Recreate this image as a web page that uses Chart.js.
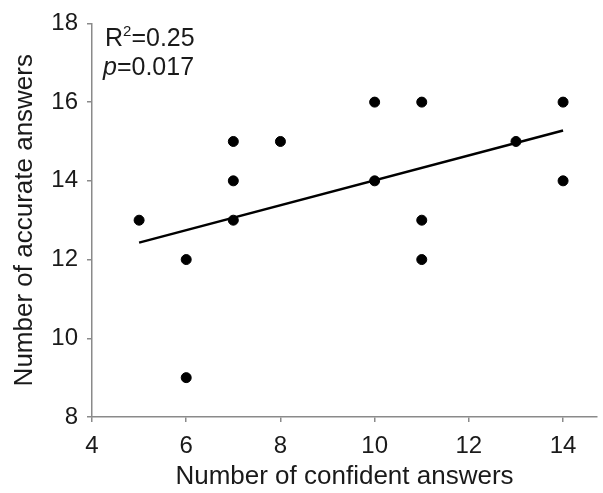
<!DOCTYPE html>
<html>
<head>
<meta charset="utf-8">
<script src="https://cdn.jsdelivr.net/npm/chart.js@4"></script>
<style>
  html, body { margin: 0; padding: 0; background: #fff; }
  #wrap { width: 603px; height: 493px; }
</style>
</head>
<body>
<div id="wrap"><canvas id="chart"></canvas></div>
<script>
// data
const confident = [5, 6, 6, 7, 7, 7, 8, 10, 10, 11, 11, 11, 13, 14, 14];
const accurate = [13, 12, 9, 15, 14, 13, 15, 16, 14, 16, 13, 12, 15, 16, 14];
const fitX = [5, 14];
const fitY = [12.43, 15.28];
const xTicks = [4, 6, 8, 10, 12, 14];
const yTicks = [8, 10, 12, 14, 16, 18];
const statR2 = '0.25';
const statP = '0.017';

const FONT = 'Liberation Sans, Arial, sans-serif';
const AXIS_GREY = '#8a8a8a';
const TEXT = '#1a1a1a';

const points = confident.map((x, i) => ({ x, y: accurate[i] }));
const fitLine = fitX.map((x, i) => ({ x, y: fitY[i] }));

const statsText = {
  id: 'statsText',
  afterDraw(chart) {
    const ctx = chart.ctx;
    ctx.save();
    ctx.fillStyle = TEXT;
    ctx.textBaseline = 'alphabetic';
    ctx.textAlign = 'left';
    ctx.font = '25px ' + FONT;
    let x = 105;
    ctx.fillText('R', x, 46);
    x += ctx.measureText('R').width;
    ctx.font = '15px ' + FONT;
    ctx.fillText('2', x, 36);
    x += ctx.measureText('2').width;
    ctx.font = '25px ' + FONT;
    ctx.fillText('=' + statR2, x, 46);

    x = 103;
    ctx.font = 'italic 25px ' + FONT;
    ctx.fillText('p', x, 75);
    x += ctx.measureText('p').width;
    ctx.font = '25px ' + FONT;
    ctx.fillText('=' + statP, x, 75);
    ctx.restore();
  }
};

new Chart(document.getElementById('chart'), {
  type: 'scatter',
  data: {
    datasets: [
      {
        type: 'line',
        data: fitLine,
        borderColor: '#000',
        borderWidth: 2.5,
        pointRadius: 0,
        fill: false,
        order: 2
      },
      {
        data: points,
        backgroundColor: '#000',
        borderColor: '#000',
        pointRadius: 5,
        pointHoverRadius: 5,
        order: 1
      }
    ]
  },
  options: {
    responsive: true,
    maintainAspectRatio: false,
    animation: false,
    events: [],
    layout: { padding: { top: 19, right: 0, left: 0, bottom: 0 } },
    plugins: { legend: { display: false }, tooltip: { enabled: false } },
    scales: {
      x: {
        type: 'linear',
        min: 4,
        max: 14.72,
        afterBuildTicks: s => { s.ticks = xTicks.map(value => ({ value })); },
        afterFit: s => { s.height = 76; },
        border: { color: AXIS_GREY, width: 1.5 },
        grid: { drawOnChartArea: false, color: AXIS_GREY, tickLength: 5, lineWidth: 1.5 },
        ticks: { color: TEXT, font: { family: FONT, size: 24 }, padding: 10, maxRotation: 0 },
        title: {
          display: true,
          text: 'Number of confident answers',
          color: TEXT,
          font: { family: FONT, size: 26 },
          padding: { top: 0, bottom: 1 }
        }
      },
      y: {
        min: 8,
        max: 18,
        afterBuildTicks: s => { s.ticks = yTicks.map(value => ({ value })); },
        afterFit: s => { s.width = 92; },
        border: { color: AXIS_GREY, width: 1.5 },
        grid: { drawOnChartArea: false, color: AXIS_GREY, tickLength: 5, lineWidth: 1.5 },
        ticks: { color: TEXT, font: { family: FONT, size: 24 }, padding: 9 },
        title: {
          display: true,
          text: 'Number of accurate answers',
          color: TEXT,
          font: { family: FONT, size: 26 },
          padding: { top: 9, bottom: 0 }
        }
      }
    }
  },
  plugins: [statsText]
});
</script>
</body>
</html>
